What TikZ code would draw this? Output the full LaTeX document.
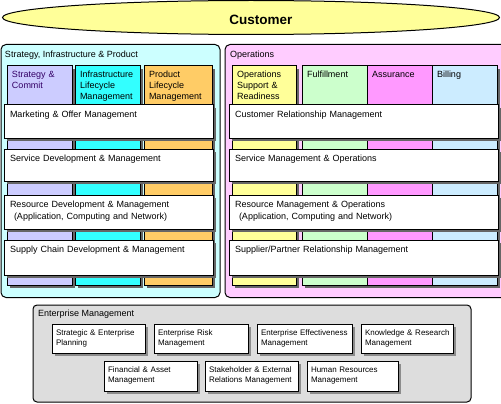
\documentclass[tikz,border=0pt]{standalone}
\usepackage{fontspec}
\setmainfont{Liberation Sans}
\usetikzlibrary{shadows,shapes.geometric}
\definecolor{custY}{HTML}{FFFF99}
\definecolor{sipC}{HTML}{CCFFFF}
\definecolor{stratC}{HTML}{CCCCFF}
\definecolor{infraC}{HTML}{33FFFF}
\definecolor{prodC}{HTML}{FFCC66}
\definecolor{opsC}{HTML}{FFCCFF}
\definecolor{osrC}{HTML}{FFFF99}
\definecolor{fulC}{HTML}{CCFFCC}
\definecolor{assC}{HTML}{FF99FF}
\definecolor{bilC}{HTML}{CCECFF}
\definecolor{entC}{HTML}{DDDDDD}
\definecolor{purpT}{HTML}{330066}
\tikzset{
  panel/.style={draw=black, line width=1pt, rounded corners=5pt, anchor=north west, inner sep=0pt, outer sep=0pt},
  colbox/.style={draw=black, line width=1pt, anchor=north west, inner sep=0pt, outer sep=0pt, minimum height=219pt,
    drop shadow={shadow xshift=3pt, shadow yshift=-3pt, fill=black!60, opacity=1}},
  wbox/.style={draw=black, line width=1pt, fill=white, anchor=north west, inner sep=0pt, outer sep=0pt,
    drop shadow={shadow xshift=3pt, shadow yshift=-3pt, fill=black!60, opacity=1}},
  ebox/.style={draw=black, line width=1pt, fill=white, anchor=north west, inner sep=0pt, outer sep=0pt,
    drop shadow={shadow xshift=3pt, shadow yshift=-3pt, fill=black!45, opacity=1}},
  maintxt/.style={anchor=base west, inner sep=0pt, outer sep=0pt, align=left, font=\fontsize{9}{12}\selectfont},
  coltxt/.style={anchor=base west, inner sep=0pt, outer sep=0pt, align=left, font=\fontsize{9}{11}\selectfont},
  enttxt/.style={anchor=base west, inner sep=0pt, outer sep=0pt, align=left, font=\fontsize{8}{10}\selectfont},
}
\newcommand\mkcol[7]{% name x y w fill color text
  \node[colbox, fill=#5, minimum width=#4pt] (#1) at (#2,#3) {};
  \node[coltxt, text=#6, text width=60pt] (#1-t) at ([xshift=5pt,yshift=-11.3pt]#1.north west) {#7};}
\newcommand\mkwbox[6]{% name x y w h text
  \node[wbox, minimum width=#4pt, minimum height=#5pt] (#1) at (#2,#3) {};
  \node[maintxt, text width=200pt] (#1-t) at ([xshift=6pt,yshift=-12.5pt]#1.north west) {#6};}
\newcommand\mkebox[6]{% name x y w h text
  \node[ebox, minimum width=#4pt, minimum height=#5pt] (#1) at (#2,#3) {};
  \node[enttxt, text width=100pt] (#1-t) at ([xshift=4pt,yshift=-11pt]#1.north west) {#6};}
\begin{document}
\begin{tikzpicture}[x=1pt,y=-1pt]
\useasboundingbox (0,0) rectangle (501,404);
% Customer
\node[draw=black, line width=1pt, ellipse, fill=custY, inner sep=0pt, minimum width=497pt, minimum height=34pt] (cust) at (251,17.5) {};
\node[anchor=center, inner sep=0pt, font=\fontsize{13.5}{15}\selectfont\bfseries] (cust-t) at (261,19.5) {Customer};
% Panels
\node[panel, fill=sipC, minimum width=219pt, minimum height=253pt] (sip) at (1,44.5) {};
\node[maintxt] (sip-t) at (5,57.3) {Strategy, Infrastructure \& Product};
\node[panel, fill=opsC, minimum width=290pt, minimum height=253pt] (ops) at (225,44.5) {};
\node[maintxt] (ops-t) at (230,57.3) {Operations};
% SIP columns
\mkcol{sc}{7}{66}{65}{stratC}{purpT}{Strategy \&\\Commit}
\mkcol{ilm}{75}{66}{65}{infraC}{black}{Infrastructure\\Lifecycle\\Management}
\mkcol{plm}{144}{66}{68}{prodC}{black}{Product\\Lifecycle\\Management}
% Ops columns
\mkcol{osr}{232}{66}{64}{osrC}{black}{Operations\\Support \&\\Readiness}
\mkcol{ful}{302}{66}{65}{fulC}{black}{Fulfillment}
\mkcol{ass}{367}{66}{65}{assC}{black}{Assurance}
\mkcol{bil}{432}{66}{65}{bilC}{black}{Billing}
% SIP horizontal boxes
\mkwbox{mom}{4}{105}{209}{33}{Marketing \& Offer Management}
\mkwbox{sdm}{4}{149}{209}{32}{Service Development \& Management}
\mkwbox{rdm}{4}{195}{209}{34}{Resource Development \& Management\\\hspace*{4pt}(Application, Computing and Network)}
\mkwbox{scdm}{4}{240}{209}{35}{Supply Chain Development \& Management}
% Ops horizontal boxes
\mkwbox{crm}{229}{105}{269}{33}{Customer Relationship Management}
\mkwbox{smo}{229}{149}{269}{32}{Service Management \& Operations}
\mkwbox{rmo}{229}{195}{269}{34}{Resource Management \& Operations\\\hspace*{4pt}(Application, Computing and Network)}
\mkwbox{sprm}{229}{240}{269}{35}{Supplier/Partner Relationship Management}
% Enterprise Management
\node[panel, rounded corners=4pt, fill=entC, minimum width=438pt, minimum height=97pt] (ent) at (33,305) {};
\node[maintxt] (ent-t) at (38,316.3) {Enterprise Management};
\mkebox{sep}{52}{324}{93}{29}{Strategic \& Enterprise\\Planning}
\mkebox{erm}{154}{324}{94}{29}{Enterprise Risk\\Management}
\mkebox{eem}{257}{324}{95}{29}{Enterprise Effectiveness\\Management}
\mkebox{krm}{361}{324}{92}{29}{Knowledge \& Research\\Management}
\mkebox{fam}{104}{361}{93}{30}{Financial \& Asset\\Management}
\mkebox{serm}{205}{361}{93}{30}{Stakeholder \& External\\Relations Management}
\mkebox{hrm}{307}{361}{91}{30}{Human Resources\\Management}
\end{tikzpicture}
\end{document}
